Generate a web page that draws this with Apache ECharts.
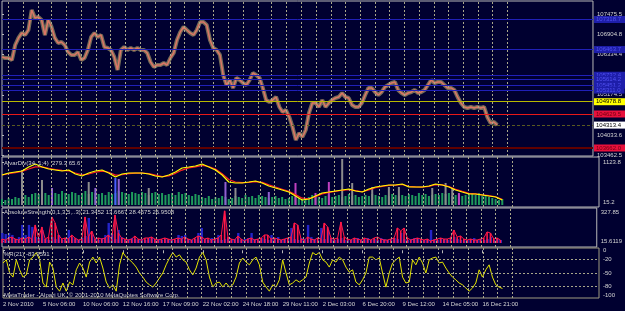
<!DOCTYPE html>
<html>
<head>
<meta charset="utf-8">
<script src="https://cdn.jsdelivr.net/npm/echarts@6/dist/echarts.min.js"></script>
<style>
  html, body { margin: 0; padding: 0; background: #000030; }
  #chart { width: 625px; height: 311px; }
</style>
</head>
<body>
<div id="chart"></div>
<script>
// time axis: one slot per sample, shared by all four panes
const slotMax = 179

const dateLabels = ['2 Nov 2010', '5 Nov 06:00', '10 Nov 06:00', '12 Nov 16:00', '17 Nov 09:00', '22 Nov 02:00',
  '24 Nov 18:00', '29 Nov 11:00', '2 Dec 03:00', '6 Dec 20:00', '9 Dec 12:00', '14 Dec 05:00', '16 Dec 21:00']
const dateSlots = [0, 12, 24, 36, 48, 60, 72, 84, 96, 108, 120, 132, 144]

// period separators (dotted verticals)
const separatorSlots = [1.9, 6.4, 10.9, 14.9, 19.4, 23.9, 28.4, 32.9, 37.4, 41.9, 46.4, 50.9, 55.2, 59.6,
  64.0, 68.5, 73.0, 77.5, 81.6, 86.1, 90.6, 95.1, 99.6, 104.0, 108.5, 113.0, 117.3, 121.8, 126.3, 130.8,
  135.3, 139.8, 144.3, 148.5, 153.0]

// main pane
const priceTicks = [103462.5, 104033.6, 105174.5, 106334.4, 106904.8, 107475.5]
const price = [
  106252, 106223, 106223, 106166, 106593, 106793, 106935, 106878, 107020, 107589,
  107362, 107390, 107305, 106878, 107305, 107106, 106793, 106650, 106679, 106593,
  106394, 106309, 106309, 106394, 106166, 106223, 106451, 106821, 106935, 106821,
  106878, 106536, 106508, 106451, 106252, 105882, 106451, 106536, 106451, 106508,
  106451, 106508, 106451, 106451, 106366, 106109, 105967, 106024, 106024, 106081,
  106024, 106223, 106366, 106736, 106963, 107106, 107020, 106935, 106878, 107020,
  107248, 107248, 107162, 106736, 106508, 106451, 106309, 105739, 105455, 105597,
  105370, 105654, 105597, 105512, 105455, 105597, 105796, 105739, 105654, 105370,
  105028, 104971, 105028, 105113, 104829, 104686, 104743, 104544, 104260, 103890,
  104089, 103975, 104174, 104658, 104943, 104943, 104829, 105028, 104829, 104943,
  105028, 105085, 105113, 105227, 105113, 105085, 104886, 104829, 104829, 104943,
  105170, 105370, 105370, 105256, 105170, 105256, 105398, 105455, 105512, 105540,
  105313, 105227, 105170, 105227, 105256, 105313, 105227, 105256, 105313, 105455,
  105597, 105512, 105540, 105540, 105455, 105370, 105370, 105313, 105113, 104943,
  104829, 104800, 104829, 104800, 104829, 104800, 104829, 104544, 104373, 104402,
  104316
]
const levelValues = [107318.7, 106463.7, 105732.4, 105614.2, 105451.2, 105311.0, 104978.8, 104629.5, 104313.4, 103662.0]
const levelKinds = ['blue', 'blue', 'blue', 'blue', 'blue', 'blue', 'yellow', 'red', 'bid', 'low']

// pane 2: divergence lines (every second slot) and volume histogram
const divTicks = [15.2, 1123.8]
const divYellow = [
  763, 819, 847, 874, 985, 1068, 985, 930, 902, 874,
  902, 791, 736, 819, 874, 902, 819, 708, 791, 819,
  819, 819, 791, 736, 708, 763, 847, 958, 985, 1013,
  1068, 985, 902, 763, 569, 542, 542, 569, 597, 542,
  459, 403, 348, 292, 181, 71, 98, 181, 265, 292,
  320, 348, 376, 320, 292, 376, 431, 459, 486, 486,
  514, 431, 431, 431, 459, 514, 486, 431, 348, 292,
  237, 237, 209, 181, 154, 71
]
const divRed = [
  763, 800, 830, 860, 930, 990, 990, 950, 915, 890,
  880, 820, 770, 790, 840, 870, 840, 760, 770, 800,
  815, 815, 800, 760, 720, 740, 810, 900, 960, 990,
  1030, 1000, 930, 800, 640, 570, 550, 560, 580, 560,
  490, 430, 370, 310, 220, 120, 100, 160, 240, 280,
  310, 340, 360, 330, 300, 350, 410, 450, 475, 485,
  500, 450, 435, 430, 450, 495, 490, 445, 370, 310,
  255, 240, 215, 190, 160, 90
]
const volume = [
  60, 50, 70, 60, 80, 70, 90, 100, 80, 110,
  120, 110, 140, 120, 100, 130, 120, 110, 140, 120,
  110, 130, 120, 100, 120, 140, 110, 130, 120, 110,
  120, 100, 130, 110, 120, 140, 130, 120, 110, 130,
  120, 110, 130, 120, 100, 120, 130, 110, 120, 100,
  110, 120, 100, 130, 110, 120, 100, 90, 110, 100,
  80, 70, 90, 60, 80, 70, 90, 80, 60, 70,
  90, 80, 70, 100, 80, 90, 70, 100, 90, 80,
  70, 80, 90, 70, 80, 60, 70, 90, 80, 70,
  60, 70, 80, 100, 90, 80, 70, 90, 100, 80,
  90, 100, 80, 90, 110, 90, 100, 80, 90, 100,
  90, 110, 100, 90, 80, 100, 90, 110, 100, 90,
  100, 90, 110, 100, 90, 120, 100, 110, 90, 100,
  110, 100, 120, 110, 120, 90, 100, 110, 90, 100,
  120, 110, 100, 120, 90, 100, 80, 70, 60, 50,
  60
]
// [slot, volume, kind]
const volumeSpikes = [
  [6, 350, 'grey'], [12, 250, 'grey'], [15, 170, 'purple'], [26, 230, 'grey'], [28, 170, 'purple'],
  [34, 270, 'blue'], [35, 260, 'purple'], [44, 170, 'grey'], [67, 230, 'purple'], [70, 170, 'grey'],
  [80, 130, 'purple'], [88, 220, 'magenta'], [94, 120, 'magenta'], [98, 230, 'magenta'], [102, 460, 'grey'],
  [105, 220, 'grey'], [111, 180, 'grey'], [116, 180, 'grey'], [119, 180, 'grey'], [129, 170, 'grey'],
  [133, 220, 'grey'], [135, 170, 'grey'], [137, 120, 'magenta']
]

// pane 3: AbsoluteStrength
const asTicks = [0, 15.6119, 327.85]
const asTickLabels = ['0.000', '15.6119', '327.85']
const asRed = [
  42, 32, 53, 63, 42, 32, 53, 42, 63, 42,
  191, 53, 170, 42, 63, 276, 212, 85, 42, 53,
  42, 85, 53, 32, 42, 276, 63, 127, 42, 53,
  42, 53, 85, 42, 297, 106, 53, 42, 32, 42,
  74, 42, 32, 53, 53, 63, 42, 32, 42, 53,
  42, 32, 42, 53, 42, 63, 42, 32, 53, 74,
  63, 42, 53, 32, 42, 53, 85, 340, 63, 42,
  32, 74, 42, 21, 42, 53, 32, 42, 53, 85,
  85, 42, 53, 42, 32, 42, 53, 63, 212, 191,
  42, 32, 63, 42, 32, 53, 42, 212, 170, 53,
  42, 53, 223, 63, 42, 32, 53, 42, 32, 53,
  42, 32, 53, 63, 42, 32, 32, 42, 53, 159,
  127, 159, 53, 32, 42, 53, 42, 32, 42, 21,
  32, 42, 53, 42, 42, 53, 138, 63, 74, 42,
  32, 42, 32, 32, 42, 53, 117, 106, 42, 53,
  32
]
const asBlue = [
  106, 95, 106, 85, 42, 63, 191, 85, 191, 170,
  63, 53, 138, 42, 32, 63, 42, 85, 32, 42,
  138, 63, 42, 32, 53, 74, 265, 85, 42, 32,
  53, 85, 212, 95, 42, 138, 63, 32, 42, 53,
  42, 32, 42, 32, 53, 53, 32, 42, 32, 42,
  32, 42, 32, 85, 74, 85, 42, 32, 42, 106,
  159, 42, 32, 53, 42, 85, 32, 42, 53, 32,
  42, 106, 32, 42, 53, 106, 42, 32, 53, 42,
  32, 85, 42, 63, 32, 42, 53, 159, 42, 32,
  53, 42, 191, 63, 42, 32, 159, 42, 138, 53,
  32, 42, 53, 32, 42, 32, 42, 53, 32, 42,
  53, 32, 42, 32, 53, 42, 32, 42, 53, 42,
  106, 42, 32, 42, 53, 53, 42, 32, 42, 138,
  42, 32, 53, 42, 32, 42, 63, 42, 32, 42,
  32, 42, 53, 32, 42, 32, 42, 63, 32, 42,
  32
]

// pane 4: Williams %R(21)
const wprTicks = [0, -20, -50, -80, -100]
const wprLevels = [-20, -50, -80]
const wpr = [
  -28, -21, -50, -59, -21, -43, -59, -54, -21, -15,
  -5, -21, -72, -81, -26, -39, -81, -90, -72, -90,
  -70, -76, -43, -28, -39, -59, -26, -15, -28, -15,
  -39, -70, -83, -76, -90, -32, -5, -15, -21, -28,
  -37, -50, -59, -70, -76, -81, -72, -61, -50, -32,
  -17, -5, -15, -10, -21, -26, -43, -54, -39, -15,
  -5, -21, -59, -81, -72, -70, -81, -72, -81, -76,
  -59, -28, -17, -26, -32, -21, -15, -32, -70, -81,
  -90, -76, -81, -65, -21, -50, -76, -72, -65, -70,
  -65, -59, -28, -5, -10, -5, -21, -26, -37, -21,
  -26, -15, -21, -37, -48, -43, -70, -76, -65, -50,
  -15, -15, -21, -17, -50, -81, -50, -28, -21, -15,
  -59, -72, -70, -21, -32, -15, -28, -50, -21, -17,
  -15, -28, -26, -39, -50, -59, -65, -72, -76, -83,
  -90, -83, -72, -43, -59, -43, -32, -59, -76, -81,
  -84
]

// ---- styles ----
const FONT = 'Liberation Sans'
const TXT = '#d4d4d4'
const levelStyle = {
  blue: { line: '#2020b8', type: 'solid', width: 1, bg: '#1e1eaa', fg: '#5050f0' },
  yellow: { line: '#b8b800', type: 'solid', width: 1, bg: '#ffff00', fg: '#000000' },
  red: { line: '#e81818', type: 'solid', width: 1, bg: '#e8103c', fg: '#700010' },
  bid: { line: '#5a5a20', type: [3, 2], width: 1, bg: '#ffffff', fg: '#000000' },
  low: { line: '#600000', type: 'solid', width: 2, bg: '#e8103c', fg: '#700010' }
}
const spikeColor = { grey: '#8c8c8c', purple: '#9060d0', magenta: '#c040c0', blue: '#4a60ff' }

const sepLine = { color: '#aaa88a', type: [2, 2], width: 1 }
const separators = separatorSlots.map(s => ({ xAxis: s, lineStyle: sepLine }))

const bySlot = arr => arr.map((v, i) => [i, v])
const byHalfSlot = arr => arr.map((v, i) => [i * 2, v])

const gridFrame = { show: true, borderColor: '#b8b8b8', borderWidth: 1, backgroundColor: 'transparent' }
const hiddenX = idx => ({ type: 'value', gridIndex: idx, min: 0, max: slotMax, show: false })
const labelAxis = (gridIndex, min, max, values, fmt) => ({
  type: 'value', gridIndex, min, max, position: 'right',
  axisLine: { show: false }, splitLine: { show: false },
  axisTick: { show: true, customValues: values, length: 2, lineStyle: { color: '#b8b8b8' } },
  axisLabel: { customValues: values, formatter: fmt, margin: 4, fontSize: 6, fontFamily: FONT, color: TXT }
})
const bareMarkLine = data => ({ silent: true, symbol: ['none', 'none'], label: { show: false }, data })

const titleText = (text, top) => ({
  text, left: 4, top, padding: 0,
  textStyle: { fontSize: 6, fontFamily: FONT, fontWeight: 'normal', color: TXT }
})

const chart = echarts.init(document.getElementById('chart'))
chart.setOption({
  backgroundColor: '#000030',
  animation: false,
  title: [
    titleText('AlvarDiv(34, 1;4)  279.3 65.6', 160),
    titleText('AbsoluteStrength(0,1,3,5,..3) 21.3452 13.6667 28.4675 26.9508', 209),
    titleText('%R(21) -83.9591', 251),
    titleText('MetaTrader - Alpari UK, \u00a9 2001-2010 MetaQuotes Software Corp.', 292)
  ],
  grid: [
    { left: 2, top: 1, width: 597, height: 155, ...gridFrame },
    { left: 2, top: 157, width: 597, height: 50, ...gridFrame },
    { left: 2, top: 208, width: 597, height: 39, ...gridFrame },
    { left: 2, top: 248, width: 597, height: 50, ...gridFrame, borderColor: '#a09c80' }
  ],
  xAxis: [
    hiddenX(0), hiddenX(1), hiddenX(2),
    {
      type: 'value', gridIndex: 3, min: 0, max: slotMax, position: 'bottom',
      axisLine: { show: false }, splitLine: { show: false },
      axisTick: { show: true, customValues: dateSlots, length: 3, lineStyle: { color: '#b8b8b8' } },
      axisLabel: {
        customValues: dateSlots, formatter: v => dateLabels[dateSlots.indexOf(v)],
        align: 'left', margin: 3, fontSize: 6, fontFamily: FONT, color: TXT
      }
    }
  ],
  yAxis: [
    labelAxis(0, 103434, 107845, priceTicks, v => v.toFixed(1)),
    labelAxis(1, -123.4, 1262.4, divTicks, v => v.toFixed(1)),
    { type: 'value', gridIndex: 1, min: -20, max: 480, show: false },
    labelAxis(2, -42.3, 370, asTicks, v => asTickLabels[asTicks.indexOf(v)]),
    labelAxis(3, -105, 5, wprTicks, v => String(v))
  ],
  series: [
    // grid lines and price levels of the main pane
    {
      type: 'line', xAxisIndex: 0, yAxisIndex: 0, data: [], z: 1,
      markLine: {
        silent: true, symbol: ['none', 'none'],
        data: separators.map(s => ({ ...s, label: { show: false } })).concat(levelValues.map((v, i) => {
          const st = levelStyle[levelKinds[i]]
          return {
            yAxis: v,
            lineStyle: { color: st.line, type: st.type, width: st.width },
            label: {
              show: true, position: 'end', distance: 1, formatter: v.toFixed(1),
              backgroundColor: st.bg, color: st.fg, padding: [1, 4, 0, 2],
              fontSize: 6, fontFamily: FONT
            }
          }
        }))
      }
    },
    {
      type: 'line', xAxisIndex: 0, yAxisIndex: 0, data: bySlot(price), z: 3,
      showSymbol: false, lineStyle: { color: '#736c58', width: 4 }
    },
    {
      type: 'line', xAxisIndex: 0, yAxisIndex: 0, data: bySlot(price), z: 4,
      showSymbol: false, lineStyle: { color: '#dc7666', width: 1.5 }
    },
    // pane 2
    {
      type: 'line', xAxisIndex: 1, yAxisIndex: 1, data: [], z: 1,
      markLine: bareMarkLine(separators)
    },
    {
      type: 'bar', xAxisIndex: 1, yAxisIndex: 2, data: bySlot(volume), z: 2,
      barWidth: 2, barGap: '-100%', itemStyle: { color: '#1f9a5c' }
    },
    {
      type: 'bar', xAxisIndex: 1, yAxisIndex: 2, z: 3, barWidth: 2, barGap: '-100%',
      data: volumeSpikes.map(([s, v, k]) => ({ value: [s, v], itemStyle: { color: spikeColor[k] } }))
    },
    {
      type: 'line', xAxisIndex: 1, yAxisIndex: 1, data: byHalfSlot(divRed), z: 4,
      showSymbol: false, lineStyle: { color: '#ff2020', width: 1.2 }
    },
    {
      type: 'line', xAxisIndex: 1, yAxisIndex: 1, data: byHalfSlot(divYellow), z: 5,
      showSymbol: false, lineStyle: { color: '#ffff00', width: 1.2 }
    },
    // pane 3
    {
      type: 'line', xAxisIndex: 2, yAxisIndex: 3, data: [], z: 1,
      markLine: bareMarkLine(separators)
    },
    {
      type: 'bar', xAxisIndex: 2, yAxisIndex: 3, data: bySlot(asBlue), z: 2,
      barWidth: 2.4, barGap: '-100%', itemStyle: { color: '#2424c8' }
    },
    {
      type: 'bar', xAxisIndex: 2, yAxisIndex: 3, data: bySlot(asRed), z: 3,
      barWidth: 1.6, barGap: '-100%', itemStyle: { color: '#ff1848' }
    },
    {
      type: 'line', xAxisIndex: 2, yAxisIndex: 3, data: bySlot(asRed), z: 4,
      showSymbol: false, lineStyle: { color: '#ff1848', width: 1 }
    },
    // pane 4
    {
      type: 'line', xAxisIndex: 3, yAxisIndex: 4, data: [], z: 1,
      markLine: bareMarkLine(separators.concat(wprLevels.map(v => ({
        yAxis: v, lineStyle: { color: '#a8a68a', type: [2, 2], width: 1 }
      }))))
    },
    {
      type: 'line', xAxisIndex: 3, yAxisIndex: 4, data: bySlot(wpr), z: 3,
      showSymbol: false, lineStyle: { color: '#e4e400', width: 1 }
    }
  ]
})
</script>
</body>
</html>
